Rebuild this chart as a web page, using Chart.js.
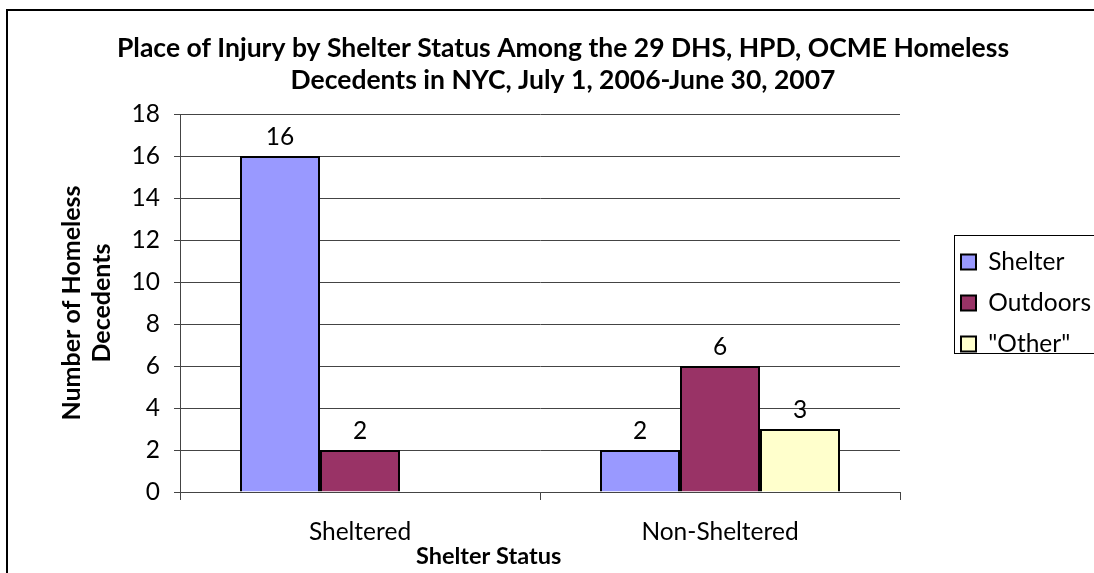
<!DOCTYPE html>
<html>
<head>
<meta charset="utf-8">
<script src="https://cdn.jsdelivr.net/npm/chart.js@4"></script>
<style>
  html, body { margin: 0; padding: 0; background: #fff; overflow: hidden; }
  #frame { position: absolute; left: 6px; top: 9px; width: 1200px; height: 700px; border-left: 2px solid #000; border-top: 2px solid #000; }
  #chart { position: absolute; left: 0; top: 0; }
</style>
</head>
<body>
<div id="frame"></div>
<canvas id="chart" width="1094" height="573"></canvas>
<script>
const categories = ["Sheltered", "Non-Sheltered"];
const seriesNames = ["Shelter", "Outdoors", "\"Other\""];
const shelterValues = [16, 2];
const outdoorsValues = [2, 6];
const otherValues = [null, 3];
const yTickValues = [0, 2, 4, 6, 8, 10, 12, 14, 16, 18];

const titleLines = [
  "Place of Injury by Shelter Status Among the 29 DHS, HPD, OCME Homeless",
  "Decedents in NYC, July 1, 2006-June 30, 2007"
];

Chart.defaults.font.family = "Lato";
Chart.defaults.color = "#000";

const textSize = 24.5;
const legendWidth = 194;
const legendPad = 16.5;
const legendShift = 44.5;

// excel-ish extras: fixed legend width, value labels, legend frame
const excelLook = {
  id: "excelLook",
  beforeLayout(chart) {
    const lg = chart.legend;
    if (lg && !lg._fixed) {
      const fit = lg.fit;
      lg.fit = function () { fit.call(this); this.width = legendWidth; };
      lg._fixed = true;
    }
  },
  afterLayout(chart) {
    const lg = chart.legend;
    lg.left += legendShift;
    lg.right += legendShift;
  },
  afterDatasetsDraw(chart) {
    const ctx = chart.ctx;
    ctx.save();
    ctx.font = textSize + "px Lato";
    ctx.fillStyle = "#000";
    ctx.textAlign = "center";
    ctx.textBaseline = "middle";
    chart.data.datasets.forEach((ds, i) => {
      chart.getDatasetMeta(i).data.forEach((bar, j) => {
        const v = ds.data[j];
        if (v == null) return;
        ctx.fillText(String(v), bar.x, bar.y - 19);
      });
    });
    ctx.restore();
  },
  afterDraw(chart) {
    const ctx = chart.ctx;
    const lg = chart.legend;
    const mid = (chart.chartArea.top + chart.chartArea.bottom) / 2;
    ctx.save();
    ctx.strokeStyle = "#000";
    ctx.lineWidth = 1;
    ctx.strokeRect(Math.round(lg.left + legendPad - 7) + 0.5, Math.round(mid - 68) + 0.5, 220, 118);
    ctx.restore();
  }
};

new Chart(document.getElementById("chart"), {
  type: "bar",
  data: {
    labels: categories,
    datasets: [
      { label: seriesNames[0], data: shelterValues, backgroundColor: "#9999FF", borderColor: "#000", borderWidth: 2 },
      { label: seriesNames[1], data: outdoorsValues, backgroundColor: "#993366", borderColor: "#000", borderWidth: 2 },
      { label: seriesNames[2], data: otherValues, backgroundColor: "#FFFFCC", borderColor: "#000", borderWidth: 2 }
    ]
  },
  options: {
    responsive: false,
    animation: false,
    events: [],
    categoryPercentage: 2 / 3,
    barPercentage: 1,
    layout: { padding: { left: 32, right: 0, top: 0, bottom: 0 } },
    plugins: {
      tooltip: { enabled: false },
      title: {
        display: true,
        text: titleLines,
        color: "#000",
        font: { size: 26.5, weight: "bold", lineHeight: 32 / 26.5 },
        padding: { top: 32, bottom: 18 }
      },
      legend: {
        position: "right",
        fullSize: false,
        labels: { boxWidth: 15, boxHeight: 15, padding: legendPad, color: "#000", font: { size: textSize } }
      }
    },
    scales: {
      x: {
        grid: { display: true, offset: true, drawOnChartArea: false, drawTicks: true, tickLength: 8, color: "#444" },
        border: { display: true, color: "#444" },
        ticks: { padding: 17, color: "#000", font: { size: textSize } },
        title: {
          display: true,
          text: "Shelter Status" + " ".repeat(18),
          color: "#000",
          font: { size: 23.5, weight: "bold", lineHeight: 1.2 },
          padding: { top: 0, bottom: 2 }
        },
        afterFit(s) { s.height = 81; }
      },
      y: {
        min: 0,
        max: 18,
        afterBuildTicks(s) { s.ticks = yTickValues.map(v => ({ value: v })); },
        grid: { color: "#444", tickLength: 6 },
        border: { color: "#444" },
        ticks: { padding: 14, color: "#000", font: { size: textSize } },
        title: {
          display: true,
          text: ["Number of Homeless", "Decedents"],
          color: "#000",
          font: { size: 25, weight: "bold", lineHeight: 1.2 },
          padding: { top: 25, bottom: 0 }
        },
        afterFit(s) { s.width = 148; }
      }
    }
  },
  plugins: [excelLook]
});
</script>
</body>
</html>
